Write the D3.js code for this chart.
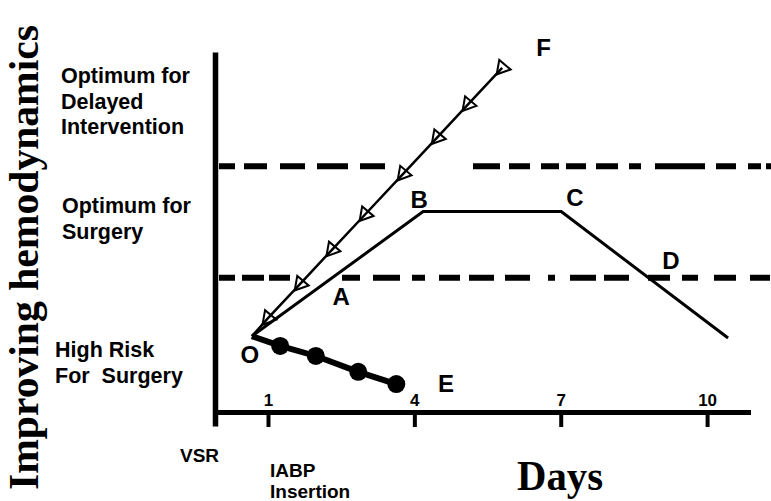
<!DOCTYPE html>
<html>
<head>
<meta charset="utf-8">
<script src="https://cdn.jsdelivr.net/npm/d3@7"></script>
<style>
  body { margin: 0; background: #fff; }
  svg { display: block; }
  text { font-family: "Liberation Sans", Arial, sans-serif; font-weight: bold; fill: #000; }
  .serif { font-family: "Liberation Serif", "Times New Roman", serif; }
</style>
</head>
<body>
<div id="chart"></div>
<script>
// x = days, y = hemodynamic level (0-100)
const dayTicks = [1, 4, 7, 10];
const zoneLimits = [37.4, 68.4];

// O -> B -> C -> past D
const surgeryDays = [0.67, 4.18, 7.01, 10.43];
const surgeryLevels = [21.2, 55.8, 55.8, 20.7];

// O -> F, open triangles
const delayedDays = [0.67, 1.00, 1.66, 2.31, 2.99, 3.77, 4.47, 5.10, 5.80];
const delayedLevels = [21.2, 26.2, 35.7, 45.2, 55.0, 66.3, 76.4, 85.6, 95.7];

// O -> E, filled dots
const riskDays = [0.67, 1.25, 1.98, 2.85, 3.63];
const riskLevels = [21.2, 18.5, 15.7, 11.3, 7.9];

// point letters
const pointNames = ["O", "A", "B", "C", "D", "E", "F"];
const pointDays = [0.63, 2.50, 4.10, 7.29, 9.26, 4.65, 6.65];
const pointLevels = [16.2, 32.4, 59.3, 59.9, 42.4, 8.2, 101.4];

const zoneLabels = [
  ["Optimum for", "Delayed", "Intervention"],
  ["Optimum for", "Surgery"],
  ["High Risk", "For  Surgery"]
];

const width = 771, height = 501;

const svg = d3.select("#chart").append("svg")
  .attr("width", width)
  .attr("height", height);

const x = d3.scaleLinear().domain([0, 10.9]).range([219.2, 751]);
const y = d3.scaleLinear().domain([0, 100]).range([412.5, 52.5]);
const axisX = 215.5;

const toPoints = (days, levels) => days.map((d, i) => ({ day: d, level: levels[i] }));
const line = d3.line().x(d => x(d.day)).y(d => y(d.level));

// zone boundaries (hand drawn dashes)
const dashes = [
  "16,9,23,13,25,12,31,12,25,88,27,9,21,11,18,7,20,10,22,11,12,14,50,11,20,12,13,5,10",
  "16,7,22,5,21,52,18,13,27,12,13,14,21,9,25,11,25,18,7,15,26,8,25,19,22,12,16,16,22,14,20"
];
svg.selectAll("line.zone")
  .data(zoneLimits)
  .enter().append("line")
  .attr("class", "zone")
  .attr("x1", 219).attr("x2", width)
  .attr("y1", d => y(d)).attr("y2", d => y(d))
  .attr("stroke", "#000")
  .attr("stroke-width", 6)
  .attr("stroke-dasharray", (d, i) => dashes[1 - i]);

// axes
svg.append("line")
  .attr("x1", axisX).attr("x2", axisX)
  .attr("y1", y(100)).attr("y2", y(0) + 14)
  .attr("stroke", "#000").attr("stroke-width", 5.5);

svg.append("line")
  .attr("x1", 213).attr("x2", x.range()[1])
  .attr("y1", y(0)).attr("y2", y(0))
  .attr("stroke", "#000").attr("stroke-width", 5);

const xAxis = svg.append("g")
  .attr("transform", `translate(0,${y(0)})`)
  .call(d3.axisBottom(x).tickValues(dayTicks).tickSize(14.5).tickFormat(d3.format("d")));
xAxis.select(".domain").remove();
xAxis.selectAll(".tick line").attr("stroke", "#000").attr("stroke-width", 4);
xAxis.selectAll(".tick text")
  .attr("y", -7).attr("dy", 0)
  .style("font-size", "17px")
  .style("font-family", "'Liberation Sans', Arial, sans-serif")
  .style("font-weight", "bold")
  .attr("fill", "#000");

// O-B-C-D course
svg.append("path")
  .datum(toPoints(surgeryDays, surgeryLevels))
  .attr("d", line)
  .attr("fill", "none")
  .attr("stroke", "#000")
  .attr("stroke-width", 3)
  .attr("stroke-linejoin", "miter");

// O-F course with triangles
const delayed = toPoints(delayedDays, delayedLevels);
svg.append("path")
  .datum(delayed)
  .attr("d", line)
  .attr("fill", "none")
  .attr("stroke", "#000")
  .attr("stroke-width", 2.5);

svg.selectAll("path.tri")
  .data(delayed.slice(1))
  .enter().append("path")
  .attr("class", "tri")
  .attr("d", d3.symbol().type(d3.symbolTriangle).size(95))
  .attr("transform", d => `translate(${x(d.day)},${y(d.level)}) rotate(100)`)
  .attr("fill", "none")
  .attr("stroke", "#000")
  .attr("stroke-width", 2);

// O-E course with dots
const risk = toPoints(riskDays, riskLevels);
svg.append("path")
  .datum(risk)
  .attr("d", line)
  .attr("fill", "none")
  .attr("stroke", "#000")
  .attr("stroke-width", 6);

svg.selectAll("circle.dot")
  .data(risk.slice(1))
  .enter().append("circle")
  .attr("class", "dot")
  .attr("cx", d => x(d.day))
  .attr("cy", d => y(d.level))
  .attr("r", 9)
  .attr("fill", "#000");

// point letters
svg.selectAll("text.pt")
  .data(pointNames)
  .enter().append("text")
  .attr("class", "pt")
  .attr("x", (d, i) => x(pointDays[i]))
  .attr("y", (d, i) => y(pointLevels[i]))
  .attr("dy", "0.36em")
  .attr("text-anchor", "middle")
  .style("font-size", "24px")
  .text(d => d);

// zone labels on the left
const zoneTop = [83, 213, 357];
const zoneLeft = [61, 62, 55];
zoneLabels.forEach((lines, z) => {
  svg.append("text")
    .attr("x", zoneLeft[z])
    .attr("y", zoneTop[z])
    .style("font-size", "21.5px")
    .style("white-space", "pre")
    .selectAll("tspan")
    .data(lines)
    .enter().append("tspan")
    .attr("x", zoneLeft[z])
    .attr("dy", (d, i) => i ? 25.5 : 0)
    .text(d => d);
});

// bottom notes
svg.append("text").attr("x", 180).attr("y", 462).style("font-size", "19px").text("VSR");
svg.append("text").attr("x", 270).attr("y", 477).style("font-size", "19px").text("IABP");
svg.append("text").attr("x", 270).attr("y", 498).style("font-size", "19px").text("Insertion");

// axis titles
svg.append("text")
  .attr("class", "serif")
  .attr("x", 517).attr("y", 490)
  .attr("textLength", 86)
  .attr("lengthAdjust", "spacingAndGlyphs")
  .style("font-size", "42px")
  .text("Days");

svg.append("text")
  .attr("class", "serif")
  .attr("transform", "translate(38,257.5) rotate(-90)")
  .attr("text-anchor", "middle")
  .attr("textLength", 465)
  .attr("lengthAdjust", "spacingAndGlyphs")
  .style("font-size", "42px")
  .text("Improving hemodynamics");
</script>
</body>
</html>
